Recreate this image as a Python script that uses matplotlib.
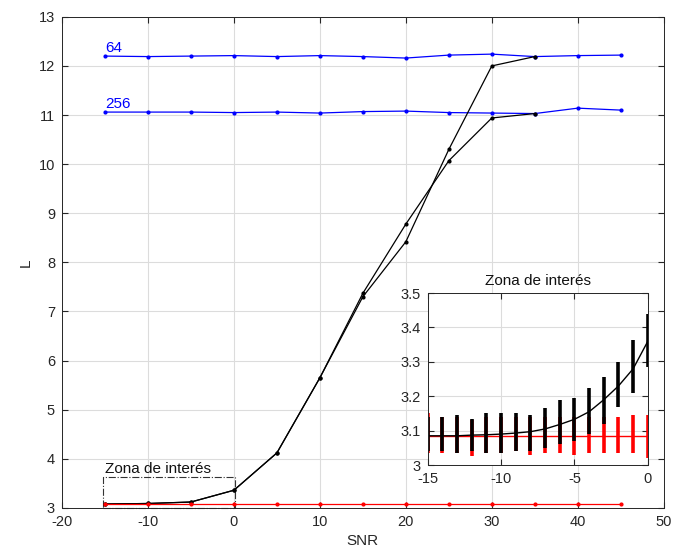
import numpy as np
import matplotlib.pyplot as plt
from matplotlib.patches import Rectangle

plt.rcParams['font.family'] = ['Liberation Sans', 'DejaVu Sans']
plt.rcParams['axes.unicode_minus'] = False

# main curves
snr = [-15, -10, -5, 0, 5, 10, 15, 20, 25, 30, 35, 40, 45]
L_64 = [12.20, 12.19, 12.20, 12.21, 12.19, 12.21, 12.19, 12.16, 12.22, 12.24, 12.19, 12.21, 12.22]
L_256 = [11.06, 11.06, 11.06, 11.05, 11.06, 11.04, 11.07, 11.08, 11.05, 11.04, 11.03, 11.14, 11.10]
L_red = [3.08] * 13

snr_a = [-15, -10, -5, 0, 5, 10, 15, 20, 25, 30, 35]
L_a = [3.08, 3.09, 3.12, 3.36, 4.12, 5.65, 7.30, 8.42, 10.30, 12.00, 12.19]
snr_b = [-15, -10, -5, 0, 5, 10, 15, 20, 25, 30, 35]
L_b = [3.08, 3.09, 3.12, 3.36, 4.12, 5.65, 7.37, 8.78, 10.07, 10.94, 11.03]

# zoomed region
snr_z = np.arange(-15, 1)
L_z_mean = [3.085, 3.085, 3.085, 3.087, 3.088, 3.090, 3.093, 3.097, 3.105, 3.118,
            3.133, 3.155, 3.190, 3.230, 3.280, 3.360]
L_z_lo = [3.04, 3.04, 3.035, 3.04, 3.035, 3.035, 3.04, 3.04, 3.05, 3.06,
          3.07, 3.09, 3.12, 3.17, 3.21, 3.285]
L_z_hi = [3.14, 3.14, 3.145, 3.135, 3.15, 3.15, 3.15, 3.145, 3.165, 3.19,
          3.195, 3.225, 3.255, 3.30, 3.365, 3.44]
red_z_mean = [3.083] * 16
red_z_lo = [3.035, 3.035, 3.035, 3.025, 3.035, 3.035, 3.04, 3.03, 3.035, 3.035,
            3.03, 3.035, 3.035, 3.035, 3.035, 3.02]
red_z_hi = [3.15, 3.14, 3.14, 3.13, 3.14, 3.14, 3.14, 3.14, 3.14, 3.14,
            3.14, 3.14, 3.14, 3.14, 3.145, 3.145]

txt = '#262626'
edge = '#262626'
gridc = '#dcdcdc'
blue = '#0000ff'


def style_axes(ax, size):
    ax.grid(True, color=gridc, linewidth=0.8)
    ax.set_axisbelow(True)
    ax.tick_params(direction='in', top=True, right=True, colors=edge,
                   labelcolor=txt, labelsize=size, length=4, pad=5)
    for s in ax.spines.values():
        s.set_color(edge)
        s.set_linewidth(0.7)


fig = plt.figure(figsize=(6.78, 5.6), dpi=100)
ax = fig.add_axes([0.0914, 0.093, 0.8876, 0.877])

ax.plot(snr, L_64, '.-', color=blue, lw=0.9, ms=4)
ax.plot(snr, L_256, '.-', color=blue, lw=0.9, ms=4)
ax.plot(snr_a, L_a, '.-', color='black', lw=0.9, ms=4)
ax.plot(snr_b, L_b, '.-', color='black', lw=0.9, ms=4)
ax.plot(snr, L_red, '.-', color='red', lw=0.9, ms=4)

ax.text(-15, 12.28, '64', color=blue, fontsize=11)
ax.text(-15, 11.14, '256', color=blue, fontsize=11)

ax.add_patch(Rectangle((-15.2, 2.99), 15.3, 0.64, fill=False, ls='-.',
                       lw=0.8, edgecolor='#333333', clip_on=False))
ax.text(-15, 3.72, 'Zona de interés', color='#111111', fontsize=11)

ax.set_xlim(-20, 50)
ax.set_ylim(3, 13)
ax.set_xticks(range(-20, 51, 10))
ax.set_yticks(range(3, 14))
ax.set_xlabel('SNR', fontsize=11, color=txt)
ax.set_ylabel('L', fontsize=11, color=txt)
style_axes(ax, 10.5)

# inset
ins = fig.add_axes([0.631, 0.1696, 0.3245, 0.307])
ins.vlines(snr_z, red_z_lo, red_z_hi, color='red', lw=2.6)
ins.plot(snr_z, red_z_mean, color='red', lw=1)
ins.vlines(snr_z, L_z_lo, L_z_hi, color='black', lw=2.6)
ins.plot(snr_z, L_z_mean, color='black', lw=1)
ins.set_xlim(-15, 0)
ins.set_ylim(3, 3.5)
ins.set_xticks([-15, -10, -5, 0])
ins.set_yticks([3, 3.1, 3.2, 3.3, 3.4, 3.5])
ins.set_yticklabels(['3', '3.1', '3.2', '3.3', '3.4', '3.5'])
ins.set_title('Zona de interés', fontsize=11, color='#111111', pad=6)
style_axes(ins, 10.5)

fig.savefig('out.png', dpi=100)
